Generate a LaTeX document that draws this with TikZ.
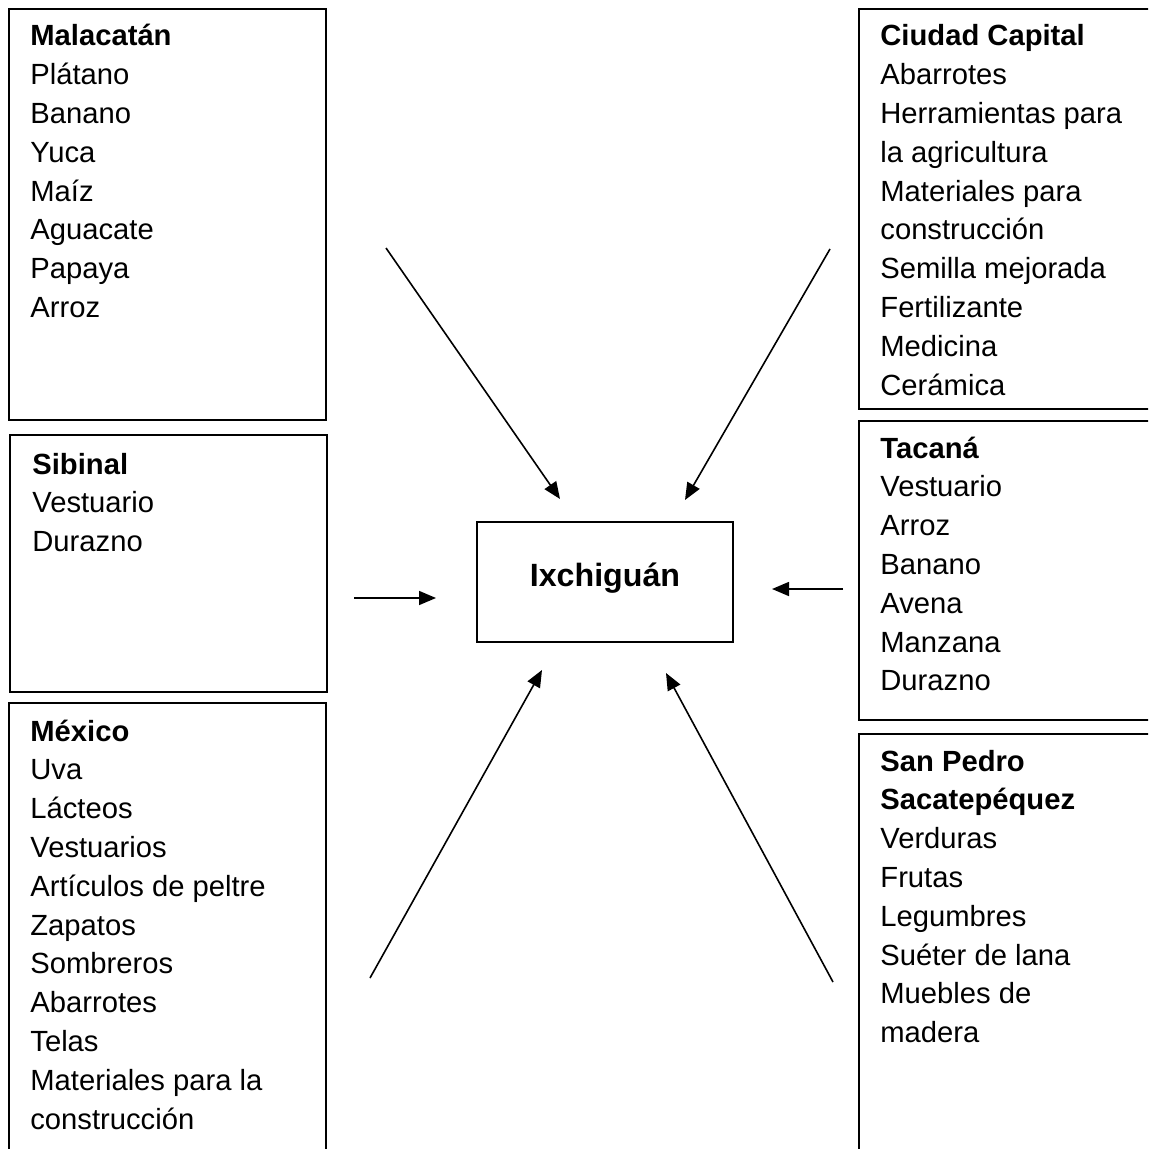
\documentclass[tikz,border=0pt]{standalone}
\usepackage{fontspec}
\setmainfont{Liberation Sans}
\usetikzlibrary{arrows.meta}
\tikzset{
  boxline/.style={draw, line width=1pt},
  arr/.style={line width=0.8pt, -{Triangle[length=8.5pt,width=7pt]}},
  lst/.style={anchor=base west, inner sep=0pt, font=\fontsize{14.6}{19.4}\selectfont},
}
\newcommand{\boxlist}[1]{\parbox[t]{170pt}{\raggedright #1}}
\begin{document}
\begin{tikzpicture}[x=0.5pt,y=-0.5pt]
\useasboundingbox (0,0) rectangle (1148,1149);
\clip (0,0) rectangle (1148,1149);
\fill[white] (0,0) rectangle (1148,1149);
% boxes
\draw[boxline] (9,9) rectangle (326,420);
\draw[boxline] (10,435) rectangle (327,692);
\draw[boxline] (9,703) rectangle (326,1170);
\draw[boxline] (859,9) rectangle (1170,409);
\draw[boxline] (859,421) rectangle (1170,720);
\draw[boxline] (859,734) rectangle (1170,1170);
% lists
\node[lst] (mal) at (30,46) {\boxlist{\textbf{Malacatán}\\Plátano\\Banano\\Yuca\\Maíz\\Aguacate\\Papaya\\Arroz}};
\node[lst] (sib) at (32,474) {\boxlist{\textbf{Sibinal}\\Vestuario\\Durazno}};
\node[lst] (mex) at (30,741) {\boxlist{\textbf{México}\\Uva\\Lácteos\\Vestuarios\\Artículos de peltre\\Zapatos\\Sombreros\\Abarrotes\\Telas\\Materiales para la\\construcción}};
\node[lst] (ciu) at (880,46) {\boxlist{\textbf{Ciudad Capital}\\Abarrotes\\Herramientas para\\la agricultura\\Materiales para\\construcción\\Semilla mejorada\\Fertilizante\\Medicina\\Cerámica}};
\node[lst] (tac) at (880,458) {\boxlist{\textbf{Tacaná}\\Vestuario\\Arroz\\Banano\\Avena\\Manzana\\Durazno}};
\node[lst] (sp) at (880,771) {\boxlist{\textbf{San Pedro}\\\textbf{Sacatepéquez}\\Verduras\\Frutas\\Legumbres\\Suéter de lana\\Muebles de\\madera}};
% center
\node[boxline, minimum width=128pt, minimum height=60pt, inner sep=0pt] (ix) at (605,582) {};
\node[anchor=base, inner sep=0pt, font=\fontsize{16.1}{19}\selectfont\bfseries] (ixt) at (605,586) {Ixchiguán};
% arrow endpoints
\coordinate (a1s) at (386,248); \coordinate (a1e) at (560,499);
\coordinate (a2s) at (830,249); \coordinate (a2e) at (685,500);
\coordinate (a3s) at (354,598); \coordinate (a3e) at (436,598);
\coordinate (a4s) at (843,589); \coordinate (a4e) at (772,589);
\coordinate (a5s) at (370,978); \coordinate (a5e) at (542,670);
\coordinate (a6s) at (833,982); \coordinate (a6e) at (666,673);
\draw[arr] (a1s) -- (a1e);
\draw[arr] (a2s) -- (a2e);
\draw[arr] (a3s) -- (a3e);
\draw[arr] (a4s) -- (a4e);
\draw[arr] (a5s) -- (a5e);
\draw[arr] (a6s) -- (a6e);
\end{tikzpicture}
\end{document}
